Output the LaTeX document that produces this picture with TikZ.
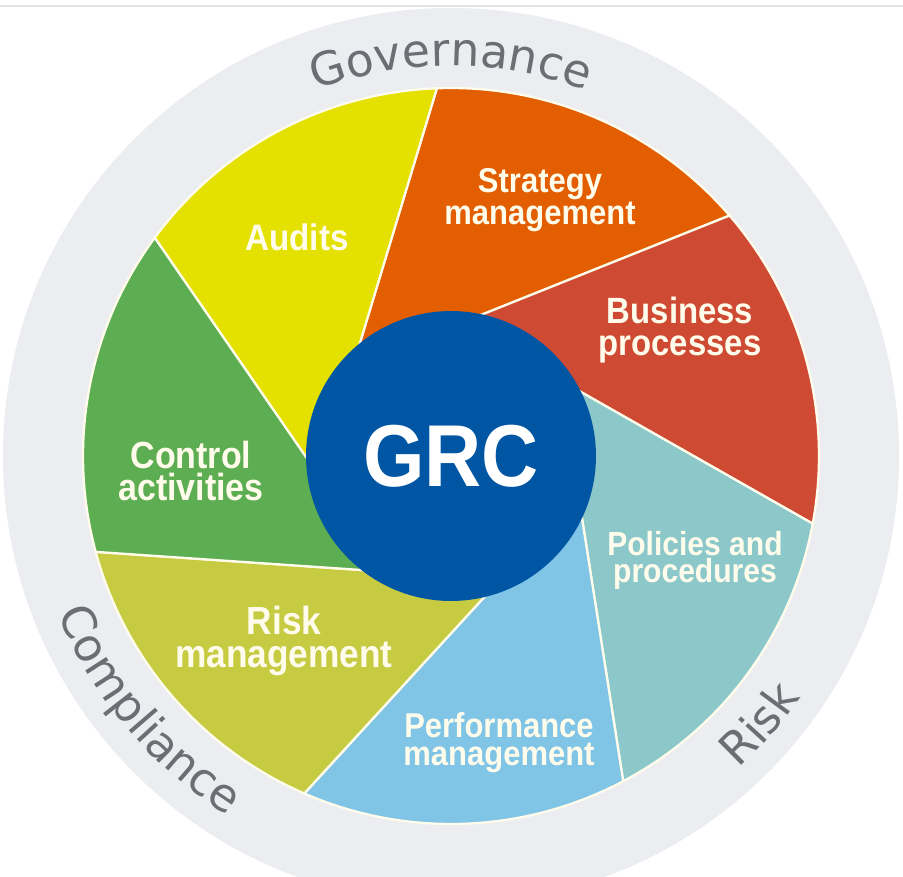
\documentclass[tikz,border=0pt]{standalone}
\usepackage{fontspec}
\usetikzlibrary{decorations.text}

\newfontfamily\segfont[FakeStretch=0.9]{Liberation Sans}
\newfontfamily\ringfont{DejaVu Sans}

\definecolor{ringgray}{RGB}{236,237,240}
\definecolor{ringtext}{RGB}{108,110,116}
\definecolor{topline}{RGB}{226,226,229}
\definecolor{auditcol}{RGB}{228,224,0}
\definecolor{strategycol}{RGB}{226,94,0}
\definecolor{businesscol}{RGB}{207,74,50}
\definecolor{policycol}{RGB}{140,200,202}
\definecolor{perfcol}{RGB}{128,196,230}
\definecolor{riskcol}{RGB}{198,203,66}
\definecolor{controlcol}{RGB}{93,173,82}
\definecolor{grcblue}{RGB}{0,86,163}
\definecolor{labelcol}{RGB}{255,252,236}

\tikzset{
  wedge/.style={fill=#1, draw=labelcol, line width=1.3pt, line join=round},
  seglabel/.style 2 args={text=labelcol, align=center, inner sep=0pt,
    font=\segfont\bfseries\fontsize{#1}{#2}\selectfont},
  hub/.style={circle, fill=grcblue, minimum size=5.8cm, inner sep=0pt,
    text=white, font=\segfont\bfseries\fontsize{50}{60}\selectfont},
  ringlabel/.style={decorate, decoration={text along path, text align=center,
    text={|\ringfont\fontsize{26}{31}\selectfont\color{ringtext}|#1}}}
}

\begin{document}
\begin{tikzpicture}[x=0.02cm,y=0.02cm]
  \useasboundingbox (-451,-420) rectangle (452,456);
  \clip (-451,-420) rectangle (452,456);
  \fill[white] (-451,-420) rectangle (452,456);

  % Coordinates
  \coordinate (center) at (0,0);

  % Top rule and outer ring
  \fill[topline] (-451,449) rectangle (452,451);
  \fill[ringgray] (center) circle[radius=448];

  % Wedges. Each one runs from its outer arc to the point where its two
  % edges meet, under the hub.
  \draw[wedge=strategycol] (92.2:368) arc[start angle=92.2, end angle=40.8, radius=368]
    -- (137.5:133) -- cycle;
  \draw[wedge=businesscol] (40.8:368) arc[start angle=40.8, end angle=-10.6, radius=368]
    -- (86.1:133) -- cycle;
  \draw[wedge=policycol] (-10.6:368) arc[start angle=-10.6, end angle=-62.1, radius=368]
    -- (34.7:133) -- cycle;
  \draw[wedge=perfcol] (-62.1:368) arc[start angle=-62.1, end angle=-113.5, radius=368]
    -- (-16.8:133) -- cycle;
  \draw[wedge=riskcol] (-113.5:368) arc[start angle=-113.5, end angle=-164.9, radius=368]
    -- (-68.2:133) -- cycle;
  \draw[wedge=controlcol] (195.1:368) arc[start angle=195.1, end angle=143.6, radius=368]
    -- (240.4:133) -- cycle;
  \draw[wedge=auditcol] (143.6:368) arc[start angle=143.6, end angle=92.2, radius=368]
    -- (188.9:133) -- cycle;

  % Hub
  \node[hub] (grc) at (center) {GRC};

  % Wedge labels
  \node[seglabel={21}{25}] (audits) at (-154,219) {Audits};
  \node[seglabel={19.6}{16.5}] (strategy) at (89,256) {Strategy\\management};
  \node[seglabel={20.8}{18}] (business) at (229,126) {Business\\processes};
  \node[seglabel={19}{15.5}] (policies) at (244,-104) {Policies and\\procedures};
  \node[seglabel={19.6}{16}] (performance) at (48,-287) {Performance\\management};
  \node[seglabel={22.3}{18.5}] (riskmgmt) at (-167,-185) {Risk\\management};
  \node[seglabel={21.5}{18}] (control) at (-260,-15) {Control\\activities};

  % Ring labels
  \path[ringlabel=Governance] (115:390) arc[start angle=115, end angle=65, radius=390];
  \path[ringlabel=Compliance] (190:423) arc[start angle=190, end angle=250, radius=423];
  \path[ringlabel=Risk] (300:425) arc[start angle=300, end angle=338, radius=425];
\end{tikzpicture}
\end{document}
